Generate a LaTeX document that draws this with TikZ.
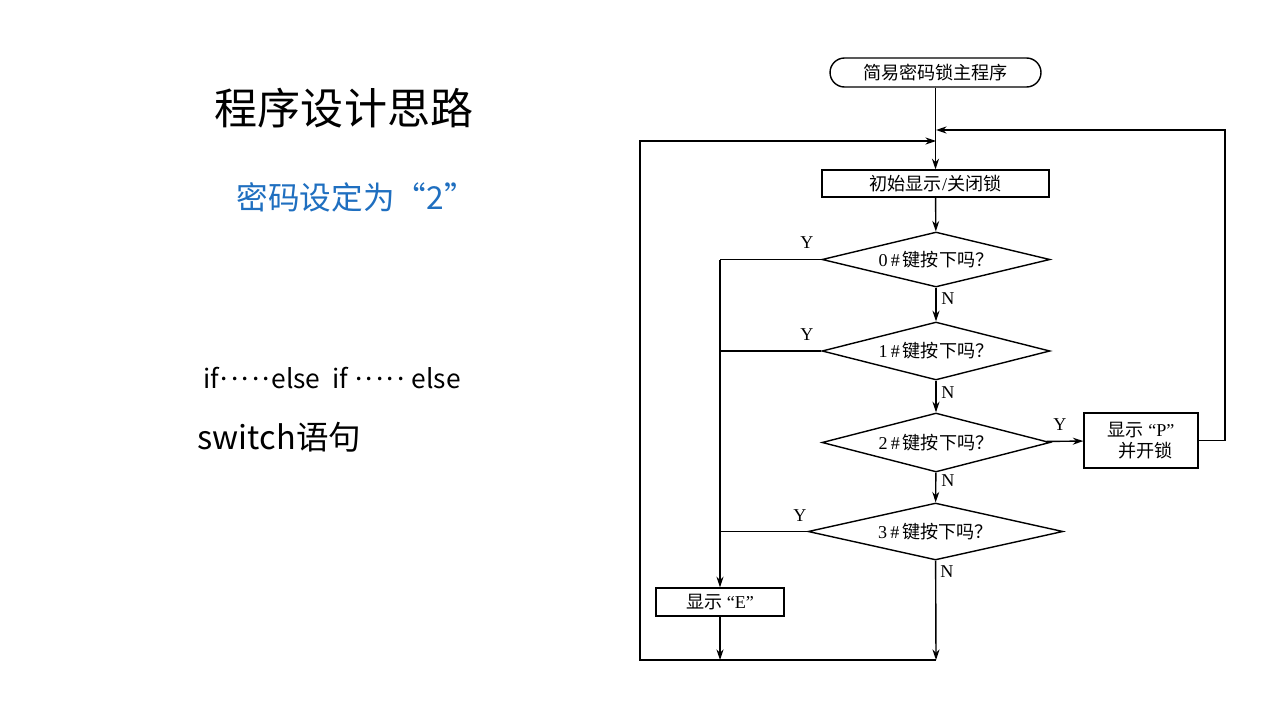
\documentclass[tikz,border=0pt]{standalone}
\usepackage{fontspec}
\setmainfont{Liberation Serif}
\newfontfamily\cjk{Noto Sans CJK SC}
\usetikzlibrary{shapes.geometric,arrows.meta}
\definecolor{titleblue}{HTML}{1F6FC0}
\newcommand{\middots}{\raisebox{0.3em}{\kern0.05em.\kern0.12em.\kern0.12em.\kern0.12em.\kern0.12em.\kern0.05em}}
\begin{document}
\begin{tikzpicture}[x=0.02cm,y=-0.02cm, line width=0.8pt,
  arr/.style={-{Stealth[length=6pt,width=4pt]}},
  fc/.style={font=\fontsize{10.3}{12}\selectfont},
  box/.style={draw, rectangle, inner sep=0pt, fc},
  dia/.style={draw, diamond, aspect=4, inner sep=0pt, fc},
  lbl/.style={fc, inner sep=1pt},
  side/.style={anchor=west, inner sep=0pt, font=\cjk}]
\fill[white] (0,0) rectangle (1280,720);
\useasboundingbox (0,0) rectangle (1280,720);

% left side texts
\node[font=\cjk\fontsize{24.5}{28}\selectfont, inner sep=0pt] (title) at (344,108) {程序设计思路};
\node[side, font=\cjk\fontsize{18}{22}\selectfont, text=titleblue] (pw) at (236,197) {密码设定为“2”};
\node[side, font=\cjk\fontsize{15}{19}\selectfont] (ifel) at (203,378) {if\middots else\ \ if \middots\ else};
\node[side, font=\cjk\fontsize{18.5}{22}\selectfont] (sw) at (197,437) {switch语句};

% flowchart nodes
\node[box, rounded corners=0.29cm, minimum width=4.22cm, minimum height=0.58cm] (start) at (935.5,72.5) {\cjk 简易密码锁主程序};
\node[box, minimum width=4.54cm, minimum height=0.54cm] (init) at (935.5,183.5) {{\cjk 初始显示}/{\cjk 关闭锁}};
\node[dia, minimum width=4.56cm, minimum height=1.1cm] (d0) at (936,259.5) {0\,\#\,{\cjk 键按下吗？}};
\node[dia, minimum width=4.56cm, minimum height=1.16cm] (d1) at (936,351) {1\,\#\,{\cjk 键按下吗？}};
\node[dia, minimum width=4.56cm, minimum height=1.18cm] (d2) at (936,442.5) {2\,\#\,{\cjk 键按下吗？}};
\node[dia, minimum width=5.1cm, minimum height=1.14cm] (d3) at (935.5,531.5) {3\,\#\,{\cjk 键按下吗？}};
\node[box, minimum width=2.56cm, minimum height=0.56cm] (E) at (720,602) {{\cjk 显示}\ “E”};
\node[box, minimum width=2.28cm, minimum height=1.1cm, align=center] (P) at (1141,440.5) {{\cjk 显示}\ “P”\\\ \ {\cjk 并开锁}};

% junction coordinates
\coordinate (jl) at (936,141);
\coordinate (jr) at (936,130);
\coordinate (tl) at (640,141);
\coordinate (bl) at (640,660);
\coordinate (bm) at (936,660);
\coordinate (be) at (720,660);
\coordinate (v0) at (720,259.5);
\coordinate (v1) at (720,351);
\coordinate (v3) at (720,531.5);
\coordinate (rr) at (1225,440.5);
\coordinate (rt) at (1225,130);

% connectors
\draw[arr] (start) -- (init);
\draw[arr] (init) -- (d0);
\draw[arr] (d0) -- (d1);
\draw[arr] (d1) -- (d2);
\draw[arr] (d2) -- (d3);
\draw[arr] (d3) -- (bm);
\draw[arr] (d2) -- (P);
\draw (d0.west) -- (v0);
\draw (d1.west) -- (v1);
\draw (d3.west) -- (v3);
\draw[arr] (v0) -- (E);
\draw[arr] (E) -- (be);
\draw[arr] (bm) -- (bl) -- (tl) -- (jl);
\draw[arr] (P) -- (rr) -- (rt) -- (jr);

% labels
\node[lbl] (n0) at (948,299) {N};
\node[lbl] (n1) at (948,393) {N};
\node[lbl] (n2) at (948,481) {N};
\node[lbl] (n3) at (947,572) {N};
\node[lbl] (y0) at (807,243) {Y};
\node[lbl] (y1) at (807,335) {Y};
\node[lbl] (y3) at (800,516) {Y};
\node[lbl] (y2) at (1060,425) {Y};
\end{tikzpicture}
\end{document}
